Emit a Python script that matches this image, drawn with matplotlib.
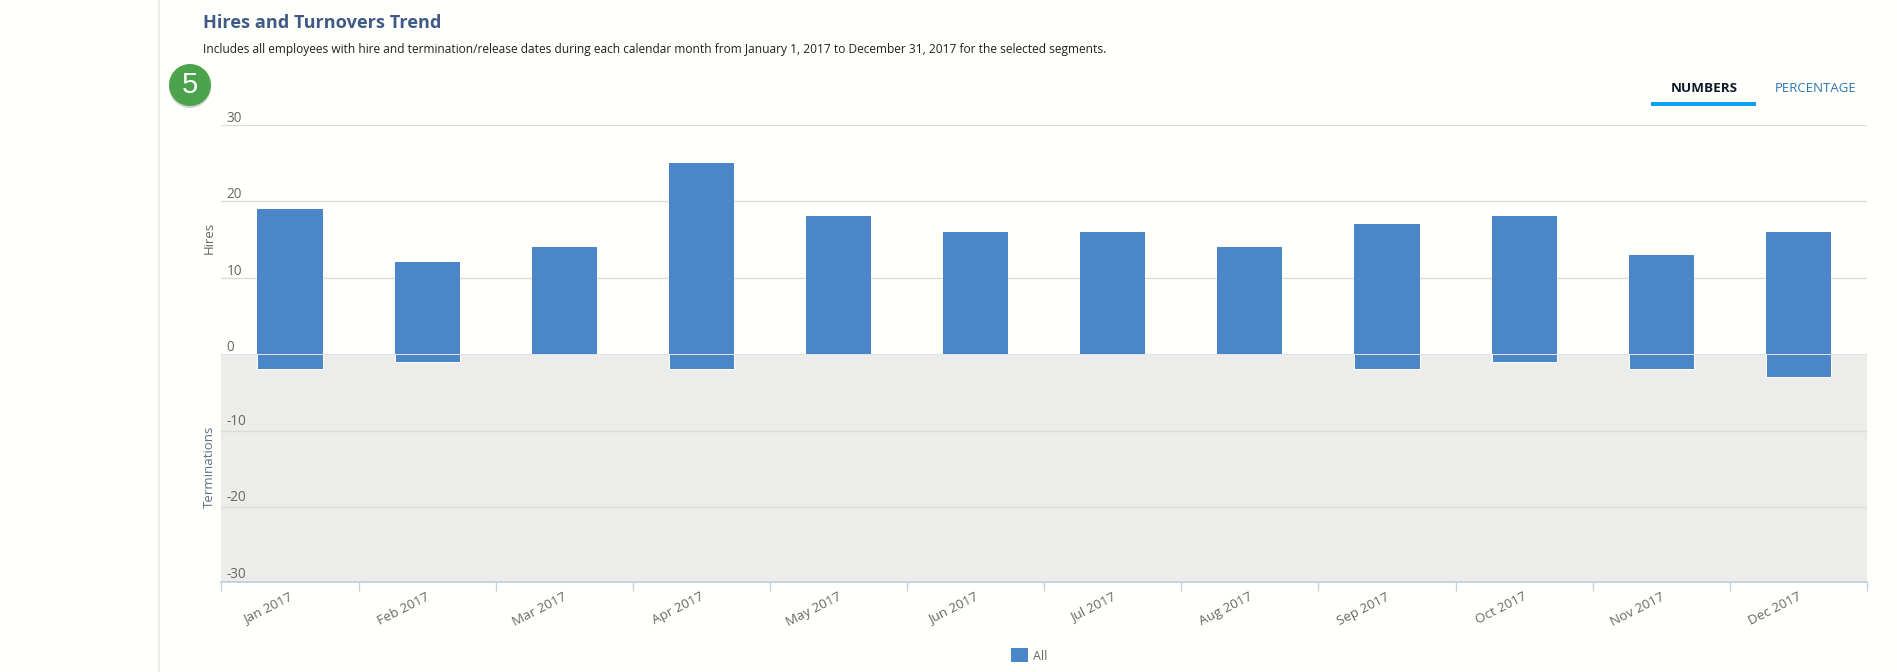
import numpy as np
import matplotlib
matplotlib.use('Agg')
import matplotlib.pyplot as plt
from matplotlib.patches import Circle, Rectangle
from matplotlib.transforms import ScaledTranslation

plt.rcParams['font.family'] = ['Open Sans', 'DejaVu Sans']

# Values
months = ['Jan 2017', 'Feb 2017', 'Mar 2017', 'Apr 2017', 'May 2017', 'Jun 2017',
          'Jul 2017', 'Aug 2017', 'Sep 2017', 'Oct 2017', 'Nov 2017', 'Dec 2017']
hires = [19, 12, 14, 25, 18, 16, 16, 14, 17, 18, 13, 16]
terminations = [-2, -1, 0, -2, 0, 0, 0, 0, -2, -1, -2, -3]
y_ticks = [30, 20, 10, 0, -10, -20, -30]

W, H = 1897, 672
BG = '#fffffc'
BAR = '#4a86c8'
GRID = '#dcdcd8'
TEXT = '#666666'

fig = plt.figure(figsize=(W / 100, H / 100), dpi=100, facecolor=BG)

# Page furniture drawn in pixel coordinates
page = fig.add_axes([0, 0, 1, 1])
page.set_xlim(0, W)
page.set_ylim(H, 0)
page.axis('off')

page.plot([159, 159], [0, H], color='#e8e8e6', lw=1.2)
page.text(203, 22.5, 'Hires and Turnovers Trend', fontsize=13.05, fontweight='bold',
          color='#3f5a85', va='center')
page.text(203, 49.5, 'Includes all employees with hire and termination/release dates during each '
          'calendar month from January 1, 2017 to December 31, 2017 for the selected segments.',
          fontsize=8.67, color='#222222', va='center')

# Numbered badge
page.add_patch(Circle((190, 87), 21, color='#999999', alpha=0.45, lw=0))
page.add_patch(Circle((190, 85), 21, color='#4ba44b', lw=0))
page.text(190, 85, '5', fontsize=21, color='white', ha='center', va='center',
          family=['Liberation Sans', 'DejaVu Sans'])

# Numbers / Percentage tabs
page.text(1704, 88, 'NUMBERS', fontsize=9.7, fontweight='bold', color='#10182a',
          ha='center', va='center')
page.text(1816, 88, 'PERCENTAGE', fontsize=9.5, color='#2f74b5', ha='center', va='center')
page.add_patch(Rectangle((1651, 102), 105, 4, color='#0d9ff5', lw=0))

# Legend
page.add_patch(Rectangle((1011, 648), 17, 13.5, color=BAR, lw=0))
page.text(1033, 656, 'All', fontsize=9, color=TEXT, va='center')

# Chart
ax = fig.add_axes([221.4 / W, 1 - 582 / H, (1867 - 221.4) / W, (582 - 124.6) / H])
ax.patch.set_alpha(0)
x = np.arange(len(months)) + 0.5
ax.set_xlim(0, len(months))
ax.set_ylim(-29.8, 30)
ax.axhspan(-29.8, 0, color='#ecedea', lw=0, zorder=0)

for v in y_ticks:
    if v not in (0, -30):
        ax.axhline(v, color=GRID, lw=1, zorder=1)
    ax.annotate(str(v), xy=(0, v), xycoords=('axes fraction', 'data'),
                xytext=(5, -1 if v >= 0 else 2), textcoords='offset pixels',
                fontsize=9.8, color=TEXT, va='bottom', ha='left')

ax.bar(x, hires, width=0.475, color=BAR, zorder=2)
ax.bar(x, terminations, width=0.475, color=BAR, edgecolor='white', lw=0.7, zorder=2)
ax.axhline(0, color='#dfe3e6', lw=0.7, zorder=3)

for side in ['top', 'right', 'left']:
    ax.spines[side].set_visible(False)
ax.spines['bottom'].set_color('#c3d0e0')
ax.spines['bottom'].set_linewidth(1.3)

ax.set_yticks([])
ax.set_xticks(np.arange(len(months) + 1))
ax.set_xticklabels([])
ax.tick_params(axis='x', which='major', length=6.5, width=1, color='#c3d0e0')
ax.set_xticks(x, months, minor=True)
ax.tick_params(axis='x', which='minor', length=0, pad=6, labelsize=9.6, labelcolor=TEXT)
shift = ScaledTranslation(-1 / 100, 0, fig.dpi_scale_trans)
for label in ax.get_xticklabels(minor=True):
    label.set_rotation(27)
    label.set_ha('right')
    label.set_rotation_mode('anchor')
    label.set_transform(label.get_transform() + shift)

page.text(209, 238, 'Hires', fontsize=9.5, color=TEXT, rotation=90, ha='center', va='center')
page.text(209, 467, 'Terminations', fontsize=9.5, color='#5f6f88', rotation=90, ha='center', va='center')

fig.savefig('out.png', dpi=100, facecolor=BG)
